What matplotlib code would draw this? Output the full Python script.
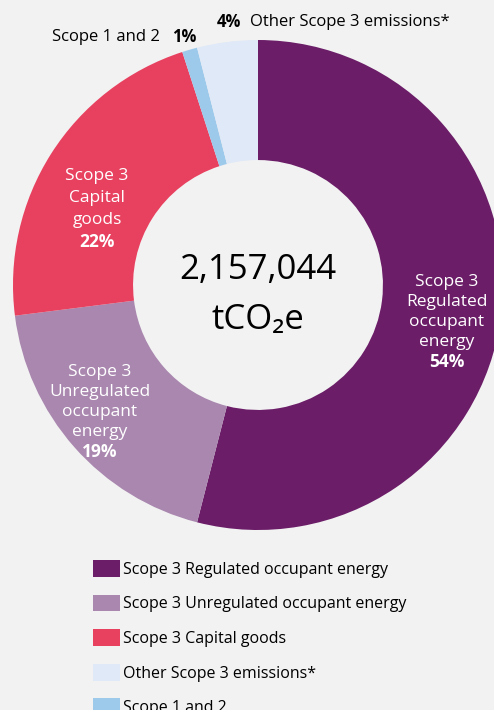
import matplotlib.pyplot as plt
from matplotlib.patches import Patch

plt.rcParams["font.family"] = ["Open Sans", "DejaVu Sans"]

# data
categories = [
    "Scope 3 Regulated occupant energy",
    "Scope 3 Unregulated occupant energy",
    "Scope 3 Capital goods",
    "Scope 1 and 2",
    "Other Scope 3 emissions*",
]
shares = [54, 19, 22, 1, 4]
colors = ["#6B1D68", "#A987AF", "#E8405F", "#9DC9EB", "#E0E9F7"]
legend_order = [0, 1, 2, 4, 3]
total_label = "2,157,044"
unit_label = "tCO₂e"

inner_labels = {
    0: "Scope 3\nRegulated\noccupant\nenergy",
    1: "Scope 3\nUnregulated\noccupant\nenergy",
    2: "Scope 3\nCapital\ngoods",
}

W, H = 494, 710
bg = "#F2F2F2"

fig = plt.figure(figsize=(W / 100, H / 100), dpi=100, facecolor=bg)
ax = fig.add_axes([0, 0, 1, 1])

cx, cy, r = 258, H - 285, 245
ax.pie(
    shares,
    colors=colors,
    startangle=90,
    counterclock=False,
    center=(cx, cy),
    radius=r,
    wedgeprops=dict(width=r * 0.49, linewidth=0),
    frame=True,
)
ax.set_xlim(0, W)
ax.set_ylim(0, H)
ax.set_aspect("equal")
ax.axis("off")

# labels inside the ring, one line at a time, percentage in bold
label_pos = {0: (447, 282, 20), 1: (100, 372, 20), 2: (97, 176, 22)}
for i, txt in inner_labels.items():
    x, y0, step = label_pos[i]
    lines = txt.split("\n") + [f"{shares[i]}%"]
    for k, line in enumerate(lines):
        ax.text(x, H - (y0 + k * step), line, color="white", fontsize=12.5,
                ha="center", va="center",
                fontweight="bold" if k == len(lines) - 1 else "normal")

# small segments, labelled above the ring
ax.text(52, H - 37, categories[3], fontsize=12, ha="left", va="center")
ax.text(196, H - 37, f"{shares[3]}%", fontsize=12, fontweight="bold",
        ha="right", va="center")
ax.text(217, H - 22, f"{shares[4]}%", fontsize=12, fontweight="bold",
        ha="left", va="center")
ax.text(250, H - 22, categories[4], fontsize=12, ha="left", va="center")

# total in the hole
ax.text(cx, H - 270, total_label, fontsize=25, ha="center", va="center")
ax.text(cx, H - 320, unit_label, fontsize=25, ha="center", va="center")

handles = [Patch(facecolor=colors[i], edgecolor="none", label=categories[i])
           for i in legend_order]
ax.legend(
    handles=handles,
    loc="upper left",
    bbox_to_anchor=(93 / W, 1 - 560 / H),
    frameon=False,
    fontsize=11.5,
    borderpad=0,
    borderaxespad=0,
    handlelength=1.7,
    handleheight=1.25,
    handletextpad=0.2,
    labelspacing=1.05,
)

fig.savefig("out.png", dpi=100, facecolor=bg)
